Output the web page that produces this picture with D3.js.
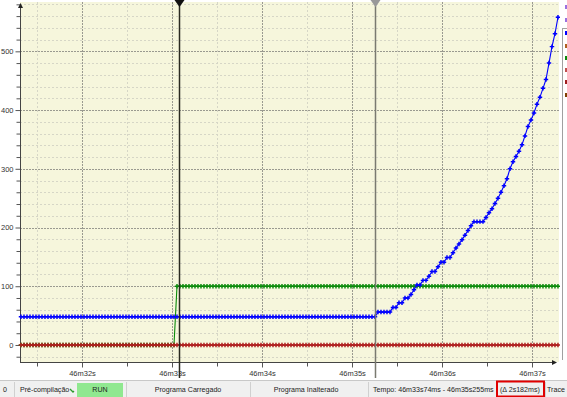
<!DOCTYPE html>
<html><head><meta charset="utf-8">
<script src="https://cdn.jsdelivr.net/npm/d3@7"></script>
<style>
body{margin:0;background:#fff;overflow:hidden}
svg{display:block}
text{font-family:"Liberation Sans",Arial,sans-serif}
</style>
</head><body>
<svg id="c" width="567" height="397"></svg>
<script>
// ---- data ----
const xTickValues=[32,33,34,35,36,37];          // seconds after 46m
const xTickLabels=["46m32s","46m33s","46m34s","46m35s","46m36s","46m37s"];
const yTickValues=[0,100,200,300,400,500];
const yTickLabels=["0","100","200","300","400","500"];
const sampleStart=31.322;    // first trace sample (s after 46m)
const samplePeriod=1/30;     // trace sampling period (s)
const blueValues=[
48,48,48,48,48,48,48,48,48,48,48,48,48,48,48,48,48,48,48,48,
48,48,48,48,48,48,48,48,48,48,48,48,48,48,48,48,48,48,48,48,
48,48,48,48,48,48,48,48,48,48,48,48,48,48,48,48,48,48,48,48,
48,48,48,48,48,48,48,48,48,48,48,48,48,48,48,48,48,48,48,48,
48,48,48,48,48,48,48,48,48,48,48,48,48,48,48,48,48,48,48,48,
48,48,48,48,48,48,48,48,48,48,48,48,48,48,48,48,48,48,48,56,
56,56,56,56,64,64,72,72,80,80,86,94,102,102,110,110,117,125,125,133,
141,141,149,149,157,165,172,179,187,195,203,210,210,210,210,217,225,232,241,250,
260,271,283,300,312,321,330,341,356,372,383,395,410,422,437,452,480,508,530,558];
const greenValues=[
0,0,0,0,0,0,0,0,0,0,0,0,0,0,0,0,0,0,0,0,
0,0,0,0,0,0,0,0,0,0,0,0,0,0,0,0,0,0,0,0,
0,0,0,0,0,0,0,0,0,0,0,0,100,100,100,100,100,100,100,100,
100,100,100,100,100,100,100,100,100,100,100,100,100,100,100,100,100,100,100,100,
100,100,100,100,100,100,100,100,100,100,100,100,100,100,100,100,100,100,100,100,
100,100,100,100,100,100,100,100,100,100,100,100,100,100,100,100,100,100,100,100,
100,100,100,100,100,100,100,100,100,100,100,100,100,100,100,100,100,100,100,100,
100,100,100,100,100,100,100,100,100,100,100,100,100,100,100,100,100,100,100,100,
100,100,100,100,100,100,100,100,100,100,100,100,100,100,100,100,100,100,100,100];
const redValues=[
0,0,0,0,0,0,0,0,0,0,0,0,0,0,0,0,0,0,0,0,
0,0,0,0,0,0,0,0,0,0,0,0,0,0,0,0,0,0,0,0,
0,0,0,0,0,0,0,0,0,0,0,0,0,0,0,0,0,0,0,0,
0,0,0,0,0,0,0,0,0,0,0,0,0,0,0,0,0,0,0,0,
0,0,0,0,0,0,0,0,0,0,0,0,0,0,0,0,0,0,0,0,
0,0,0,0,0,0,0,0,0,0,0,0,0,0,0,0,0,0,0,0,
0,0,0,0,0,0,0,0,0,0,0,0,0,0,0,0,0,0,0,0,
0,0,0,0,0,0,0,0,0,0,0,0,0,0,0,0,0,0,0,0,
0,0,0,0,0,0,0,0,0,0,0,0,0,0,0,0,0,0,0,0];
const cursorTimes=[33.074,35.255];
const statusTexts=["0","Pré-compilação","RUN","Programa Carregado","Programa Inalterado",
  "Tempo: 46m33s74ms - 46m35s255ms","(Δ 2s182ms)","Trace 1"];

// ---- layout ----
const svg=d3.select("#c");
const L=20,R=559,T=2,B=362;
const x=d3.scaleLinear().domain([31.311,37.3]).range([L,R]);
const y=d3.scaleLinear().domain([-29,584]).range([B,T]);
const px=v=>Math.round(v)+0.5;

// plot background
svg.append("rect").attr("x",L).attr("y",T).attr("width",R-L).attr("height",B-T).attr("fill","#F6F6DC");

// grid
const xMinor=d3.range(31.5,37.3,0.5).filter(v=>!xTickValues.includes(v));
const yMinor=d3.range(-20,584,20).filter(v=>v%100!==0);
const grid=svg.append("g");
grid.selectAll(".vm").data(xMinor).join("line")
  .attr("x1",d=>px(x(d))).attr("x2",d=>px(x(d))).attr("y1",T).attr("y2",B)
  .attr("stroke","#d6d6c6").attr("stroke-dasharray","2,2");
grid.selectAll(".hm").data(yMinor).join("line")
  .attr("y1",d=>px(y(d))).attr("y2",d=>px(y(d))).attr("x1",L).attr("x2",R)
  .attr("stroke","#d6d6c6").attr("stroke-dasharray","2,2");
grid.selectAll(".vM").data(xTickValues).join("line")
  .attr("x1",d=>px(x(d))).attr("x2",d=>px(x(d))).attr("y1",T).attr("y2",B)
  .attr("stroke","#9a9a90").attr("stroke-dasharray","2,1");
grid.selectAll(".hM").data(yTickValues).join("line")
  .attr("y1",d=>px(y(d))).attr("y2",d=>px(y(d))).attr("x1",L).attr("x2",R)
  .attr("stroke","#9a9a90").attr("stroke-dasharray","2,1");

// axes
const yAxisMinor=d3.axisLeft(y).tickValues(yMinor.filter(v=>v>-29)).tickSize(4).tickFormat("");
const yAxis=d3.axisLeft(y).tickValues(yTickValues).tickSize(5).tickPadding(2)
  .tickFormat((d,i)=>yTickLabels[i]);
const gy1=svg.append("g").attr("transform",`translate(${L+0.5},0)`).call(yAxisMinor);
const gy=svg.append("g").attr("transform",`translate(${L+0.5},0)`).call(yAxis);
const xAxisMinor=d3.axisBottom(x).tickValues(xMinor).tickSize(4).tickFormat("");
const xAxis=d3.axisBottom(x).tickValues(xTickValues).tickSize(5).tickPadding(3)
  .tickFormat((d,i)=>xTickLabels[i]);
const gx1=svg.append("g").attr("transform",`translate(0,${B+0.5})`).call(xAxisMinor);
const gx=svg.append("g").attr("transform",`translate(0,${B+0.5})`).call(xAxis);
[gy1,gy,gx1,gx].forEach(g=>{
  g.select(".domain").remove();
  g.selectAll(".tick line").attr("stroke","#555");
  g.selectAll("text").attr("fill","#333").style("font-size","7.5px");
});
// axis lines with arrows
svg.append("line").attr("x1",L+0.5).attr("x2",L+0.5).attr("y1",T+2).attr("y2",B+0.5).attr("stroke","#444");
svg.append("path").attr("d",`M${L+0.5},${T+1}l-2.5,5h5z`).attr("fill","#222");
svg.append("line").attr("x1",L).attr("x2",553).attr("y1",B+0.5).attr("y2",B+0.5).attr("stroke","#444");
svg.append("path").attr("d",`M557,${B+0.5}l-5,-2.5v5z`).attr("fill","#222");

// series
const times=blueValues.map((v,i)=>sampleStart+i*samplePeriod);
const series=[
  {vals:greenValues,color:"#0a8a0a"},
  {vals:blueValues,color:"#0000ff"},
  {vals:redValues,color:"#b02020"}
];
const line=d3.line().x((d,i)=>x(times[i])).y(d=>y(d));
const sym=d3.symbol().type(d3.symbolCross).size(11);
series.forEach(s=>{
  const g=svg.append("g");
  g.append("path").attr("d",line(s.vals)).attr("fill","none").attr("stroke",s.color).attr("stroke-width",1.1);
  g.selectAll("path.m").data(s.vals).join("path").attr("class","m")
    .attr("transform",(d,i)=>`translate(${x(times[i])},${y(d)})`)
    .attr("d",sym()).attr("fill",s.color);
});

// cursors
const curColors=["#2a2a20","#7a7a70"],triColors=["#111","#999"];
cursorTimes.forEach((t,i)=>{
  const cx=Math.round(x(t))+0.5;
  svg.append("line").attr("x1",cx).attr("x2",cx).attr("y1",0).attr("y2",378)
    .attr("stroke",curColors[i]).attr("stroke-width",1.5);
  svg.append("path").attr("d",`M${cx-5},0h10l-5,7z`).attr("fill",triColors[i]);
});

// right-side legend stub
svg.append("rect").attr("x",560).attr("y",0).attr("width",7).attr("height",380).attr("fill","#fff");
svg.append("line").attr("x1",562.5).attr("x2",562.5).attr("y1",28).attr("y2",360).attr("stroke","#a0a0a0");
svg.append("line").attr("x1",562.5).attr("x2",567).attr("y1",28.5).attr("y2",28.5).attr("stroke","#a0a0a0");
const legColors=["#0000ff","#b06020","#0a8a0a","#c05050","#a02020","#804000"];
const legY=[33,46,58,70,82,95];
svg.selectAll(".lg").data(legColors).join("rect").attr("x",565).attr("y",(d,i)=>legY[i]-2)
  .attr("width",3).attr("height",4).attr("fill",d=>d);
svg.append("rect").attr("x",565).attr("y",5).attr("width",3).attr("height",4).attr("fill","#9a70e0");
svg.append("rect").attr("x",565).attr("y",18).attr("width",3).attr("height",4).attr("fill","#9a70e0");

// status bar
const sb=svg.append("g");
sb.append("rect").attr("x",0).attr("y",380).attr("width",567).attr("height",17).attr("fill","#f0f0f0");
sb.append("line").attr("x1",0).attr("x2",567).attr("y1",380.5).attr("y2",380.5).attr("stroke","#c8c8c8");
[14,126,250,368,545].forEach(sx=>sb.append("line").attr("x1",sx+0.5).attr("x2",sx+0.5)
  .attr("y1",382).attr("y2",397).attr("stroke","#d0d0d0"));
sb.append("rect").attr("x",77).attr("y",383).attr("width",46).attr("height",14).attr("fill","#90e890");
sb.append("path").attr("d","M70,389l3,3l1,-1").attr("stroke","#2a9a2a").attr("stroke-width",1.3).attr("fill","none");
sb.append("rect").attr("x",497).attr("y",381.5).attr("width",47).attr("height",15).attr("fill","none")
  .attr("stroke","#e00000").attr("stroke-width",2);
const stPos=[[3,"start"],[20,"start"],[100,"middle"],[188,"middle"],[306,"middle"],[373,"start"],[500,"start"],[547,"start"]];
sb.selectAll("text").data(statusTexts).join("text")
  .attr("x",(d,i)=>stPos[i][0]).attr("y",392).attr("text-anchor",(d,i)=>stPos[i][1])
  .attr("fill","#222").style("font-size","7.1px").text(d=>d);
</script>
</body></html>
